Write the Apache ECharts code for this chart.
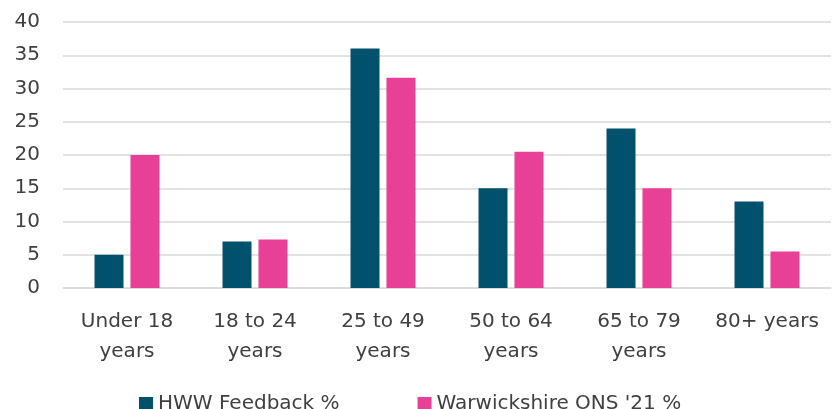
<!DOCTYPE html>
<html>
<head>
<meta charset="utf-8">
<script src="https://cdn.jsdelivr.net/npm/echarts@6/dist/echarts.min.js"></script>
<style>
    html,body{margin:0;padding:0;background:#fff;}
    #main{width:832px;height:409px;}
</style>
</head>
<body>
<div id="main"></div>
<script>
    /*数据*/
    var categories = ['Under 18\nyears', '18 to 24\nyears', '25 to 49\nyears', '50 to 64\nyears', '65 to 79\nyears', '80+ years'];
    var hwwFeedback = [5, 7, 36, 15, 24, 13];
    var warwickOns = [20, 7.3, 31.6, 20.5, 15, 5.5];
    var yTicks = {min: 0, max: 40, interval: 5};

    var font = 'DejaVu Sans';
    var chart = echarts.init(document.getElementById('main'));
    var option = {
        animation: false,
        textStyle: {fontFamily: font},
        grid: {
            left: 63,
            right: 1,
            top: 22,
            bottom: 121
        },
        legend: {
            left: 134,
            top: 389,
            itemWidth: 14,
            itemHeight: 14,
            itemGap: 78,
            icon: 'rect',
            textStyle: {fontFamily: font, fontSize: 20, color: '#404040'},
            data: ['HWW Feedback %', "Warwickshire ONS '21 %"]
        },
        xAxis: {
            type: 'category',
            data: categories,
            axisTick: {show: false},
            axisLine: {lineStyle: {color: '#d9d9d9', width: 1.5}},
            axisLabel: {
                margin: 19,
                fontFamily: font,
                fontSize: 20,
                lineHeight: 30,
                color: '#404040',
                interval: 0
            }
        },
        yAxis: {
            type: 'value',
            min: yTicks.min,
            max: yTicks.max,
            interval: yTicks.interval,
            axisLine: {show: false},
            axisTick: {show: false},
            splitLine: {lineStyle: {color: '#d9d9d9', width: 1.5}},
            axisLabel: {
                margin: 23,
                fontFamily: font,
                fontSize: 20,
                color: '#404040'
            }
        },
        series: [
            {
                name: 'HWW Feedback %',
                type: 'bar',
                data: hwwFeedback,
                barWidth: 29,
                barGap: '24%',
                itemStyle: {color: '#00516B'}
            },
            {
                name: "Warwickshire ONS '21 %",
                type: 'bar',
                data: warwickOns,
                barWidth: 29,
                barGap: '24%',
                itemStyle: {color: '#E84097'}
            }
        ]
    };
    chart.setOption(option);
</script>
</body>
</html>
